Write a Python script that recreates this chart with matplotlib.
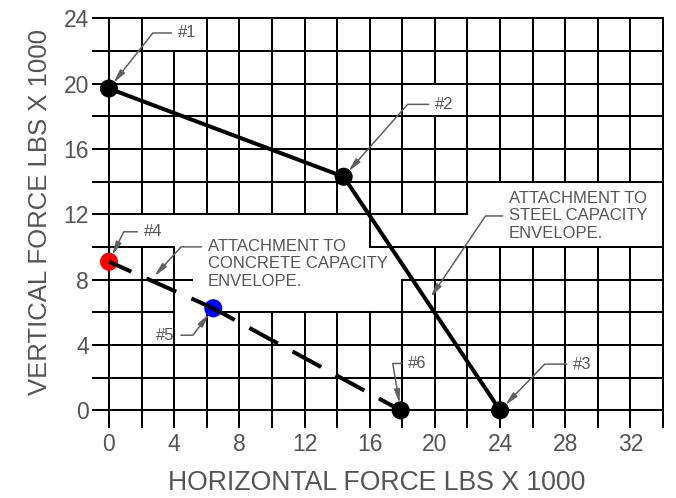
import numpy as np
import matplotlib
matplotlib.use("Agg")
import matplotlib.pyplot as plt
from matplotlib.collections import LineCollection

plt.rcParams['font.family'] = ['Liberation Sans', 'DejaVu Sans']
plt.rcParams['lines.scale_dashes'] = False

# ---------------- data ----------------
steel_x = [0.0, 14.4, 24.0]          # points #1, #2, #3
steel_y = [19.7, 14.3, 0.0]
concrete_x = [0.0, 6.4, 17.9]        # points #4, #5, #6
concrete_y = [9.1, 6.25, 0.0]
point_labels = ['#1', '#2', '#3', '#4', '#5', '#6']
point_colors = ['black', 'black', 'black', 'red', 'blue', 'black']
x_ticks = [0, 4, 8, 12, 16, 20, 24, 28, 32]
y_ticks = [0, 4, 8, 12, 16, 20, 24]
x_label = 'HORIZONTAL FORCE LBS X 1000'
y_label = 'VERTICAL FORCE LBS X 1000'
steel_note = 'ATTACHMENT TO\nSTEEL CAPACITY\nENVELOPE.'
concrete_note = 'ATTACHMENT TO\nCONCRETE CAPACITY\nENVELOPE.'

TXT = '#555555'
LEAD = '#606060'
NOTE_FS = 12

fig = plt.figure(figsize=(6.76, 4.98), dpi=100)
ax = fig.add_axes([0.1371, 0.1432, 0.8437, 0.8201])
ax.set_xlim(-1, 34)
ax.set_ylim(-1, 24)
for s in ax.spines.values():
    s.set_visible(False)

# ---------------- grid (with blanked areas behind notes) ----------------
h_gaps = {12: [(22, 34)], 10: [(4, 16)], 8: [(5.07, 18)], 6: [(4, 6)]}
v_gaps = {2: [(10, 12)], 4: [(10, 12), (22, 24)], 6: [(6, 12)], 8: [(6, 12)],
          10: [(6, 12)], 12: [(6, 12)], 14: [(6, 12)], 16: [(6, 10)],
          18: [(8, 12)], 20: [(10, 12), (18, 20)], 22: [(10, 12)],
          24: [(10, 14)], 26: [(10, 14)], 28: [(10, 14)], 30: [(10, 14)],
          32: [(10, 14)]}


def runs(lo, hi, gaps):
    out, start = [], lo
    for a, b in sorted(gaps):
        if a > start:
            out.append((start, a))
        start = b
    if hi > start:
        out.append((start, hi))
    return out


segs = []
for y in range(0, 25, 2):
    for a, b in runs(-1, 34, h_gaps.get(y, [])):
        segs.append([(a, y), (b, y)])
for x in range(0, 35, 2):
    for a, b in runs(-1, 24, v_gaps.get(x, [])):
        segs.append([(x, a), (x, b)])
lc = LineCollection(segs, colors='black', linewidths=1.45, zorder=1,
                    capstyle='projecting', clip_on=False)
ax.add_collection(lc)

# ---------------- markers ----------------
px = steel_x + concrete_x
py = steel_y + concrete_y
ax.scatter(px, py, s=170, c=point_colors, zorder=2, linewidths=0, clip_on=False)

# ---------------- envelopes ----------------
ax.plot(steel_x, steel_y, color='black', lw=2.9, zorder=3,
        solid_capstyle='butt', solid_joinstyle='round')
for i in range(len(concrete_x) - 1):
    ax.plot(concrete_x[i:i + 2], concrete_y[i:i + 2], color='black', lw=2.9,
            zorder=3, linestyle=(5.8, (23.4, 12.0)), dash_capstyle='butt')

# ---------------- leaders / labels ----------------
label_pos = [(4.22, 23.1), (20.0, 18.73), (28.48, 2.83),
             (2.13, 10.93), (4.03, 4.6), (18.35, 2.87)]
label_ang = [51.7, 48.5, 46.0, 63.7, 53.1, 99.6]
label_ha = ['left', 'left', 'left', 'left', 'right', 'left']
arrow = '-|>,head_length=0.8,head_width=0.17'
for lab, x, y, (tx, ty), ang, ha in zip(point_labels, px, py, label_pos,
                                         label_ang, label_ha):
    ax.annotate(lab, xy=(x, y), xytext=(tx, ty), textcoords='data',
                ha=ha, va='center', fontsize=NOTE_FS, color=TXT, zorder=5,
                annotation_clip=False,
                arrowprops=dict(arrowstyle=arrow, color=LEAD, lw=1.1,
                                shrinkA=2.5, shrinkB=5, mutation_scale=10,
                                relpos=(0 if ha == 'left' else 1, 0.5),
                                connectionstyle=f'angle,angleA=0,angleB={ang},rad=0'))

# note anchors on the envelopes
t_s = 0.536
steel_anchor = (steel_x[1] + t_s * (steel_x[2] - steel_x[1]),
                steel_y[1] + t_s * (steel_y[2] - steel_y[1]))
t_c = 0.40
conc_anchor = (concrete_x[0] + t_c * (concrete_x[1] - concrete_x[0]),
               concrete_y[0] + t_c * (concrete_y[1] - concrete_y[0]))

ax.annotate(steel_note, xy=steel_anchor, xytext=(24.55, 11.9),
            textcoords='data', ha='left', va='center', fontsize=NOTE_FS,
            color=TXT, zorder=5, linespacing=1.22,
            arrowprops=dict(arrowstyle=arrow, color=LEAD, lw=1.1,
                            shrinkA=2.5, shrinkB=4, mutation_scale=10,
                            relpos=(0, 0.5),
                            connectionstyle='angle,angleA=0,angleB=56,rad=0'))
ax.annotate(concrete_note, xy=conc_anchor, xytext=(6.06, 8.96),
            textcoords='data', ha='left', va='center', fontsize=NOTE_FS,
            color=TXT, zorder=5, linespacing=1.22,
            arrowprops=dict(arrowstyle=arrow, color=LEAD, lw=1.1,
                            shrinkA=2.5, shrinkB=4, mutation_scale=10,
                            relpos=(0, 0.84),
                            connectionstyle='angle,angleA=0,angleB=47.8,rad=0'))

# ---------------- ticks & axis labels ----------------
ax.set_xticks(x_ticks)
ax.set_yticks(y_ticks)
ax.tick_params(axis='both', length=0, labelsize=16.5, labelcolor=TXT)
ax.tick_params(axis='x', pad=4.2)
ax.tick_params(axis='y', pad=2.8)

fig.text(377 / 676, 1 - 483 / 498, x_label, ha='center', va='center',
         fontsize=19.2, color=TXT)
fig.text(40 / 676, 1 - 212 / 498, y_label, ha='center', va='center',
         fontsize=18.5, color=TXT, rotation=90)

fig.savefig('out.png', dpi=100)
